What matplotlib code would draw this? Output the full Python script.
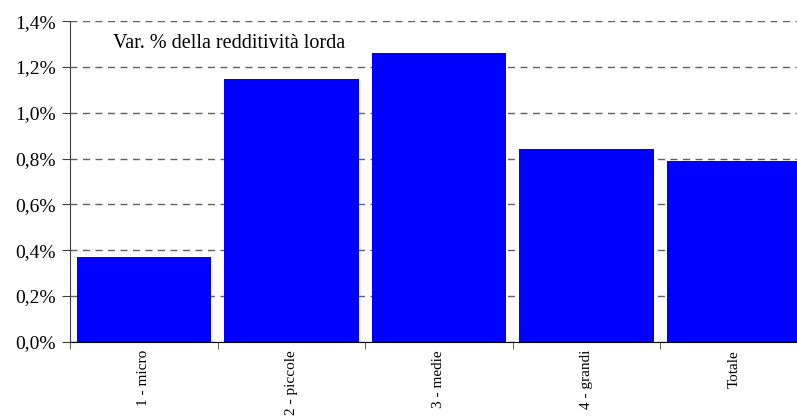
import matplotlib.pyplot as plt
import numpy as np
from matplotlib.ticker import FuncFormatter, MultipleLocator

plt.rcParams['font.family'] = ['Liberation Serif', 'DejaVu Serif']

# variazione % della redditività lorda per classe dimensionale
categorie = ['1 - micro', '2 - piccole', '3 - medie', '4 - grandi', 'Totale']
var_pct = [0.37, 1.15, 1.26, 0.84, 0.79]

fig = plt.figure(figsize=(7.97, 4.17), dpi=100)
ax = fig.add_axes([0.0878, 0.1806, 0.926, 0.7683])

x = np.arange(len(categorie))
ax.bar(x, var_pct, width=0.91, color='#0000FF', zorder=2)

ax.set_xlim(-0.5, len(categorie) - 0.5)
ax.set_ylim(0, 1.4)

# y axis in percent with comma decimals
ax.yaxis.set_major_locator(MultipleLocator(0.2))
ax.yaxis.set_major_formatter(FuncFormatter(lambda v, p: f'{v:.1f}%'.replace('.', ',')))
ax.grid(axis='y', linestyle=(0, (5, 4)), color='#606060', linewidth=1, zorder=0)

# category labels at centres, tick marks at boundaries
ax.set_xticks(x)
ax.set_xticklabels(categorie, rotation=90, fontsize=11)
ax.set_xticks(np.arange(len(categorie) + 1) - 0.5, minor=True)
ax.tick_params(axis='x', which='major', length=0, pad=6)
ax.tick_params(axis='x', which='minor', length=5, direction='out', color='#404040')
ax.tick_params(axis='y', length=6, direction='out', labelsize=14, color='#404040', pad=4)

for s in ['top', 'right']:
    ax.spines[s].set_visible(False)
ax.spines['left'].set_color('#404040')
ax.spines['bottom'].set_color('black')

ax.text(-0.21, 1.305, 'Var. % della redditività lorda', fontsize=14.5,
        transform=ax.transData, ha='left', va='center', zorder=3)

fig.savefig('out.png', dpi=100)
